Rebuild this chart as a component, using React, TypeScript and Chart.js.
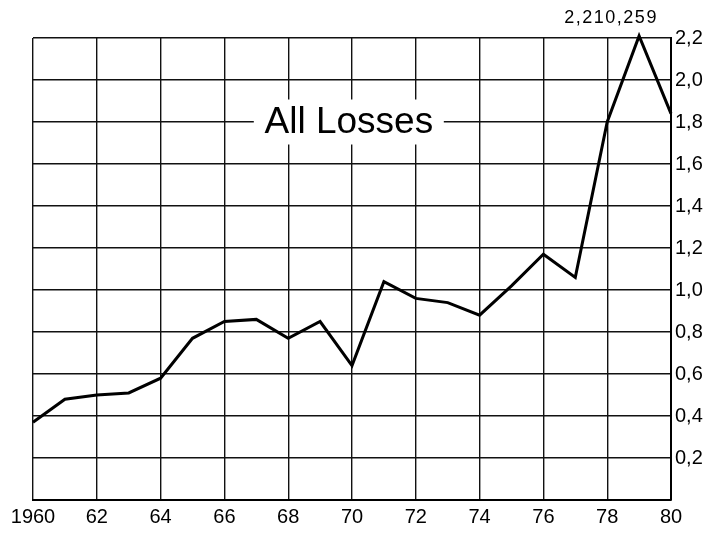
import React, { useEffect, useRef } from "react";
import { Chart, registerables } from "chart.js";

Chart.register(...registerables);

const years = [1960, 1961, 1962, 1963, 1964, 1965, 1966, 1967, 1968, 1969, 1970, 1971, 1972, 1973, 1974, 1975, 1976, 1977, 1978, 1979, 1980];
const losses = [0.37, 0.48, 0.5, 0.51, 0.58, 0.77, 0.85, 0.86, 0.77, 0.85, 0.64, 1.04, 0.96, 0.94, 0.88, 1.02, 1.17, 1.06, 1.8, 2.21, 1.84];
const titleText = "All Losses";
const peakLabel = "2,210,259";
const peakYear = 1979;
const yTicks = [0, 0.2, 0.4, 0.6, 0.8, 1.0, 1.2, 1.4, 1.6, 1.8, 2.0, 2.2];

const FONT = "'Liberation Sans', Arial, Helvetica, sans-serif";

const annotations = {
  id: "annotations",
  beforeDatasetsDraw(chart: any) {
    const { ctx, scales } = chart;
    const cx = scales.x.getPixelForValue(1969.9);
    const base = scales.y.getPixelForValue(1.75);
    ctx.save();
    ctx.fillStyle = "#fff";
    ctx.fillRect(cx - 95, base - 33, 190, 45);
    ctx.fillStyle = "#000";
    ctx.font = "37px " + FONT;
    ctx.textAlign = "center";
    ctx.textBaseline = "alphabetic";
    ctx.fillText(titleText, cx, base);
    ctx.restore();
  },
  afterDatasetsDraw(chart: any) {
    const { ctx, scales } = chart;
    const idx = years.indexOf(peakYear);
    const px = scales.x.getPixelForValue(peakYear);
    const py = scales.y.getPixelForValue(losses[idx]);
    ctx.save();
    ctx.fillStyle = "#000";
    ctx.font = "18px " + FONT;
    try { (ctx as any).letterSpacing = "1.5px"; } catch (e) {}
    ctx.textAlign = "center";
    ctx.textBaseline = "alphabetic";
    ctx.fillText(peakLabel, px - 28, py - 13);
    ctx.restore();
  },
};

export default function App() {
  const ref = useRef<HTMLCanvasElement>(null);
  useEffect(() => {
    if (!ref.current) return;
    const chart = new Chart(ref.current, {
      type: "line",
      data: {
        datasets: [
          {
            data: years.map((y, i) => ({ x: y, y: losses[i] })),
            borderColor: "#000",
            borderWidth: 3,
            pointRadius: 0,
            tension: 0,
            fill: false,
            clip: false as any,
          },
        ],
      },
      options: {
        animation: false,
        responsive: false,
        maintainAspectRatio: false,
        layout: { padding: { left: 33, top: 38, right: 0, bottom: 0 } },
        plugins: { legend: { display: false }, tooltip: { enabled: false }, title: { display: false } },
        scales: {
          x: {
            type: "linear",
            min: 1960,
            max: 1980,
            afterFit: (s: any) => { s.height = 33; },
            ticks: {
              stepSize: 2,
              color: "#000",
              font: { family: FONT, size: 20 },
              padding: 5,
              maxRotation: 0,
              autoSkip: false,
              callback: (v: any) => (v === 1960 ? "1960" : String(v).slice(2)),
            },
            grid: { color: "#111", lineWidth: 1.4, drawTicks: false },
            border: { color: "#000", width: 2 },
          },
          y: {
            position: "right",
            min: 0,
            max: 2.2,
            afterFit: (s: any) => { s.width = 37; },
            afterBuildTicks: (s: any) => { s.ticks = yTicks.map((v) => ({ value: v })); },
            ticks: {
              color: "#000",
              font: { family: FONT, size: 20 },
              padding: 4,
              callback: (v: any) => {
                const r = Math.round(Number(v) * 10) / 10;
                return r === 0 ? "" : r.toFixed(1).replace(".", ",");
              },
            },
            grid: { color: "#111", lineWidth: 1.4, drawTicks: false },
            border: { color: "#000", width: 2 },
          },
        },
      },
      plugins: [annotations],
    });
    return () => chart.destroy();
  }, []);
  return (
    <div style={{ position: "absolute", left: 0, top: 0, width: 708, height: 533, background: "#fff" }}>
      <canvas ref={ref} width={708} height={533} style={{ width: 708, height: 533 }} />
    </div>
  );
}
